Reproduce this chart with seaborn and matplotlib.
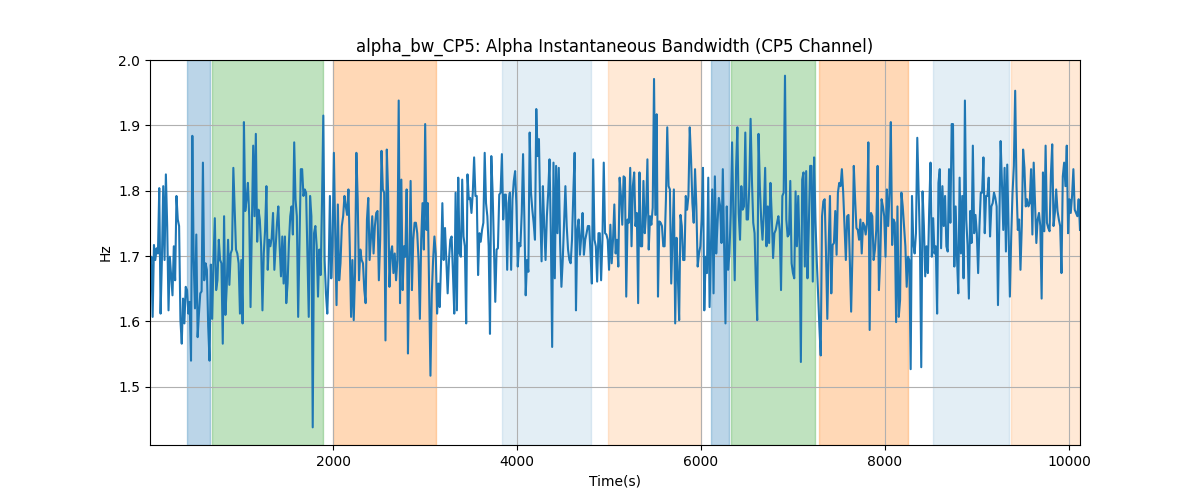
import numpy as np
import pandas as pd
import matplotlib
matplotlib.use("Agg")
import matplotlib.pyplot as plt
import seaborn as sns

t_start = 10
t_end = 10120

seg1 = [1.663, 1.699, 1.607, 1.717, 1.694, 1.712, 1.704, 1.804, 1.612, 1.694, 1.807, 1.694, 1.825, 1.746, 1.617, 1.699, 1.669, 1.640, 1.715, 1.663, 1.792, 1.756, 1.746, 1.602, 1.566, 1.635, 1.597, 1.653, 1.648, 1.612, 1.630, 1.540, 1.884, 1.694, 1.620, 1.733, 1.576, 1.612, 1.643, 1.646, 1.843, 1.663, 1.689, 1.679, 1.592, 1.540, 1.687, 1.604, 1.694, 1.758, 1.648, 1.663, 1.725, 1.694, 1.689, 1.566, 1.761, 1.610, 1.653, 1.725, 1.656, 1.704, 1.710, 1.835, 1.771, 1.710, 1.704, 1.689, 1.612, 1.694, 1.597, 1.905, 1.769, 1.787, 1.812, 1.761, 1.622, 1.746, 1.869, 1.761, 1.887, 1.722, 1.771, 1.756, 1.715, 1.617, 1.704, 1.740, 1.807, 1.679, 1.725, 1.715, 1.728, 1.766, 1.679, 1.715, 1.751, 1.776, 1.715, 1.669, 1.730, 1.658, 1.730, 1.628, 1.658, 1.720, 1.761, 1.776, 1.733, 1.874, 1.787, 1.761, 1.607, 1.720, 1.833]
seg2 = [1.833, 1.792, 1.802, 1.797, 1.699, 1.607, 1.792, 1.761, 1.438, 1.735, 1.746, 1.715, 1.638, 1.710, 1.671, 1.781, 1.915, 1.694, 1.643, 1.612, 1.674, 1.792, 1.666, 1.715, 1.858, 1.735, 1.625, 1.779, 1.663, 1.689, 1.746, 1.761, 1.792, 1.776, 1.763, 1.802, 1.715, 1.607, 1.694, 1.602, 1.674, 1.858, 1.787, 1.663, 1.710, 1.694, 1.689, 1.648, 1.628, 1.756, 1.789, 1.694, 1.728, 1.761, 1.704, 1.746, 1.766, 1.769, 1.663, 1.725, 1.861, 1.802, 1.797, 1.571, 1.863, 1.797, 1.653, 1.704, 1.715, 1.674, 1.704, 1.663, 1.694, 1.938, 1.628, 1.817, 1.648, 1.715, 1.699, 1.802, 1.551, 1.694, 1.815, 1.648, 1.725, 1.751, 1.751, 1.735, 1.694, 1.604, 1.725, 1.781, 1.710, 1.902, 1.740, 1.781, 1.648, 1.517, 1.643, 1.694, 1.730, 1.704, 1.612, 1.658, 1.622, 1.689, 1.781, 1.694, 1.743, 1.694, 1.643, 1.694, 1.725, 1.730, 1.674, 1.612, 1.797]
seg3 = [1.617, 1.820, 1.704, 1.699, 1.817, 1.730, 1.715, 1.597, 1.825, 1.787, 1.789, 1.766, 1.797, 1.851, 1.792, 1.792, 1.671, 1.735, 1.722, 1.740, 1.751, 1.858, 1.781, 1.761, 1.715, 1.581, 1.853, 1.797, 1.715, 1.630, 1.710, 1.712, 1.794, 1.797, 1.856, 1.756, 1.794, 1.794, 1.679, 1.781, 1.797, 1.679, 1.787, 1.815, 1.830, 1.776, 1.684, 1.720, 1.715, 1.766, 1.856, 1.756, 1.640, 1.694, 1.676, 1.889, 1.797, 1.771, 1.751, 1.725, 1.925, 1.853, 1.879, 1.766, 1.692, 1.807, 1.746, 1.694, 1.761, 1.797, 1.848, 1.735, 1.561, 1.843, 1.666, 1.838, 1.735, 1.835, 1.720, 1.653, 1.694, 1.751, 1.807, 1.746, 1.710, 1.694, 1.689, 1.725, 1.797, 1.858, 1.617, 1.740, 1.756, 1.702, 1.730, 1.766, 1.702, 1.725, 1.735, 1.746, 1.746, 1.704, 1.658, 1.848, 1.725, 1.715, 1.661, 1.735, 1.735, 1.663, 1.725, 1.843, 1.735, 1.733, 1.725, 1.679, 1.748]
seg4 = [1.689, 1.725, 1.779, 1.704, 1.725, 1.684, 1.820, 1.792, 1.748, 1.822, 1.820, 1.638, 1.756, 1.751, 1.835, 1.715, 1.807, 1.828, 1.746, 1.766, 1.628, 1.828, 1.715, 1.715, 1.815, 1.735, 1.766, 1.848, 1.710, 1.761, 1.748, 1.774, 1.971, 1.763, 1.917, 1.638, 1.753, 1.751, 1.746, 1.715, 1.715, 1.787, 1.897, 1.807, 1.802, 1.658, 1.730, 1.802, 1.597, 1.728, 1.669, 1.602, 1.763, 1.746, 1.694, 1.694, 1.792, 1.771, 1.792, 1.897, 1.848, 1.781, 1.751, 1.833, 1.776, 1.684, 1.704, 1.715, 1.756, 1.835, 1.617, 1.699, 1.674, 1.820, 1.622, 1.715, 1.802, 1.643, 1.822, 1.704, 1.751, 1.789, 1.776, 1.720, 1.833, 1.710, 1.597, 1.776, 1.679, 1.704, 1.766, 1.874, 1.761, 1.663, 1.833, 1.897, 1.766, 1.725, 1.807, 1.771, 1.776, 1.889, 1.756, 1.756, 1.807, 1.910, 1.817, 1.751, 1.735, 1.658, 1.602, 1.887, 1.807, 1.756, 1.725, 1.766, 1.835, 1.715, 1.776, 1.720, 1.812]
seg5 = [1.761, 1.697, 1.735, 1.740, 1.751, 1.761, 1.740, 1.648, 1.792, 1.797, 1.976, 1.756, 1.730, 1.733, 1.815, 1.689, 1.674, 1.666, 1.799, 1.715, 1.792, 1.715, 1.538, 1.817, 1.828, 1.684, 1.830, 1.666, 1.746, 1.838, 1.838, 1.661, 1.851, 1.756, 1.694, 1.643, 1.592, 1.548, 1.761, 1.784, 1.787, 1.704, 1.604, 1.715, 1.792, 1.643, 1.717, 1.720, 1.769, 1.702, 1.797, 1.812, 1.807, 1.833, 1.797, 1.746, 1.694, 1.761, 1.763, 1.694, 1.615, 1.704, 1.838, 1.787, 1.743, 1.740, 1.725, 1.756, 1.704, 1.751, 1.746, 1.733, 1.751, 1.874, 1.587, 1.766, 1.761, 1.694, 1.710, 1.740, 1.838, 1.648, 1.694, 1.787, 1.776, 1.761, 1.699, 1.802, 1.746, 1.797, 1.905, 1.717, 1.756, 1.751, 1.599, 1.776, 1.607, 1.633, 1.797, 1.776, 1.746, 1.715, 1.653, 1.699, 1.694, 1.527, 1.792, 1.720, 1.704, 1.735, 1.881, 1.797, 1.720, 1.530, 1.799, 1.746, 1.669, 1.715]
seg6 = [1.674, 1.771, 1.843, 1.699, 1.758, 1.704, 1.715, 1.612, 1.812, 1.833, 1.712, 1.807, 1.746, 1.792, 1.715, 1.707, 1.833, 1.751, 1.902, 1.902, 1.684, 1.776, 1.699, 1.643, 1.820, 1.704, 1.792, 1.666, 1.938, 1.756, 1.717, 1.635, 1.769, 1.720, 1.869, 1.735, 1.763, 1.735, 1.674, 1.746, 1.797, 1.797, 1.851, 1.735, 1.792, 1.792, 1.820, 1.730, 1.776, 1.781, 1.797, 1.789, 1.776, 1.625, 1.746, 1.876, 1.812, 1.740, 1.835, 1.707, 1.840, 1.743, 1.638, 1.730, 1.797, 1.838, 1.953, 1.807, 1.740, 1.756, 1.679, 1.746, 1.863, 1.835, 1.776, 1.787, 1.776, 1.781, 1.833, 1.733, 1.843, 1.781, 1.720, 1.756, 1.766, 1.746, 1.635, 1.828, 1.738, 1.869, 1.751, 1.743, 1.738, 1.825, 1.871, 1.746, 1.766, 1.802, 1.769, 1.756, 1.746, 1.674, 1.822, 1.843, 1.807, 1.869, 1.735, 1.787, 1.766, 1.792, 1.833, 1.771, 1.766, 1.761, 1.787, 1.740]

values = seg1 + seg2 + seg3 + seg4 + seg5 + seg6
times = np.linspace(t_start, t_end, len(values))

# shaded segments: (start, end, color, alpha)
span_starts = [413, 685, 2000, 3837, 4989, 6109, 6326, 7283, 8522, 9370]
span_ends = [663, 1891, 3120, 4804, 6000, 6304, 7239, 8250, 9348, 10120]
span_colors = ["tab:blue", "tab:green", "tab:orange", "tab:blue", "tab:orange",
               "tab:blue", "tab:green", "tab:orange", "tab:blue", "tab:orange"]
span_alphas = [0.3, 0.3, 0.3, 0.12, 0.17, 0.3, 0.3, 0.3, 0.12, 0.17]

df = pd.DataFrame({"Time(s)": times, "Hz": values})

plt.rcParams.update(plt.rcParamsDefault)
fig, ax = plt.subplots(figsize=(12, 5), dpi=100)

for s, e, c, a in zip(span_starts, span_ends, span_colors, span_alphas):
    ax.axvspan(s, e, color=c, alpha=a)

sns.lineplot(data=df, x="Time(s)", y="Hz", ax=ax, color="tab:blue",
             linewidth=1.5, estimator=None)

ax.set_xlim(t_start, t_end)
ax.set_ylim(1.411, 2.0)
ax.grid(True)
ax.set_title("alpha_bw_CP5: Alpha Instantaneous Bandwidth (CP5 Channel)")
ax.set_xlabel("Time(s)")
ax.set_ylabel("Hz")

fig.savefig("out.png", dpi=100)
